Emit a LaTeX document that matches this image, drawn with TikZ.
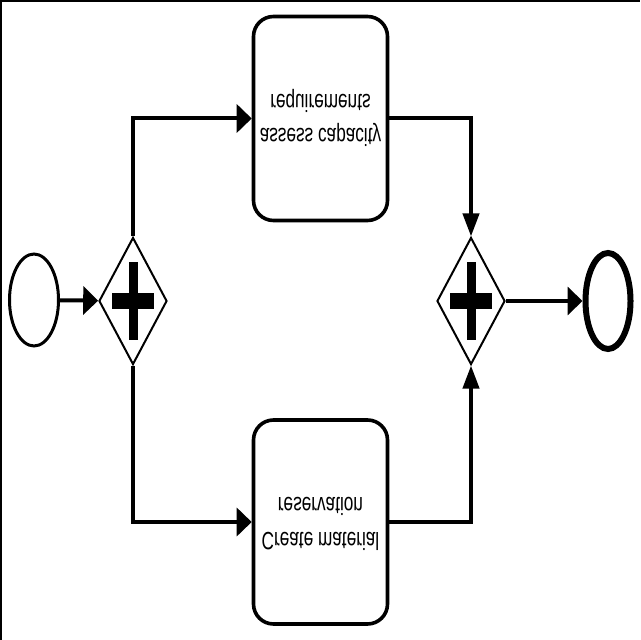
\documentclass[tikz,border=0pt]{standalone}
\usepackage{fontspec}
\setmainfont{Liberation Sans}
\usepackage{tikz}
\usetikzlibrary{shapes,arrows.meta,positioning}
\tikzset{
  event/.style={ellipse,draw,line width=1.5pt,minimum width=24.5pt,minimum height=46pt,inner sep=0pt},
  endevent/.style={event,line width=3pt,minimum width=22.5pt,minimum height=48pt},
  gateway/.style={diamond,draw,line width=1pt,minimum width=34pt,minimum height=63.5pt,inner sep=0pt,
    path picture={
      \fill ([shift={(-2.25pt,-19.5pt)}]path picture bounding box.center) rectangle ++(4.5pt,39pt);
      \fill ([shift={(-10.5pt,-3.75pt)}]path picture bounding box.center) rectangle ++(21pt,7.5pt);}},
  task/.style={draw,rounded corners=10pt,line width=1.8pt,minimum width=67pt,minimum height=102pt,
    inner sep=0pt,font=\fontsize{8.6}{12}\selectfont},
  flow/.style={line width=2pt,-{Triangle[length=7.5pt,width=14pt]}},
  vflow/.style={line width=2pt,-{Triangle[length=11.5pt,width=8pt]}}
}
% text is shown upside down
\newcommand{\flipped}[1]{\scalebox{1}[-1.45]{\begin{tabular}{@{}c@{}}#1\end{tabular}}}

\begin{document}
\begin{tikzpicture}[x=0.5pt,y=-0.5pt]
\useasboundingbox (0,0) rectangle (640,640);
\draw[line width=2pt] (0,640) -- (0,0) -- (640,0);
\node[event] (start) at (34,300) {};
\node[gateway] (split) at (133,301) {};
\node[task] (assess) at (320.5,118.5) {\flipped{assess capacity\\requirements}};
\node[task] (reserve) at (320.5,522) {\flipped{Create material\\reservation}};
\node[gateway] (join) at (471,301) {};
\node[endevent] (finish) at (608,301) {};
% sequence flows
\draw[flow] (start) -- (split);
\draw[flow] (split.north) |- (assess.west);
\draw[flow] (split.south) |- (reserve.west);
\draw[vflow] (assess.east) -| (join.north);
\draw[vflow] (reserve.east) -| (join.south);
\draw[flow] (join) -- (finish);
\end{tikzpicture}
\end{document}
